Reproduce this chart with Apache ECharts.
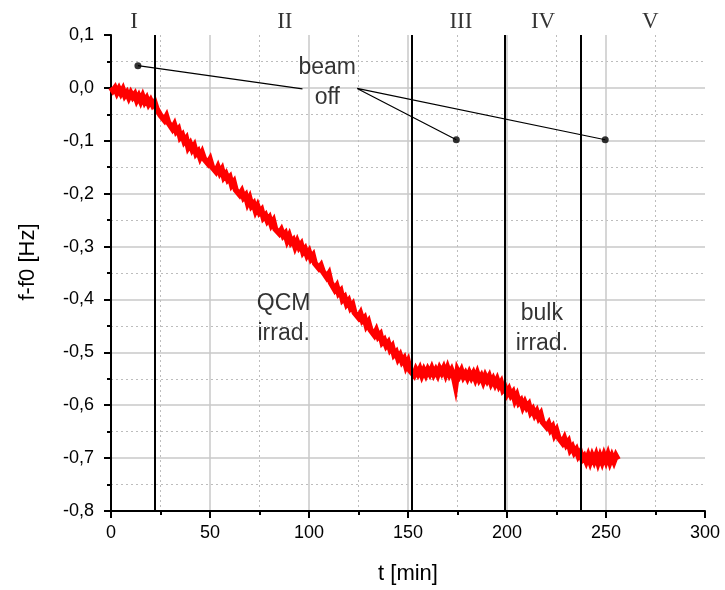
<!DOCTYPE html>
<html>
<head>
<meta charset="utf-8">
<script src="https://cdn.jsdelivr.net/npm/echarts@6/dist/echarts.min.js"></script>
<style>
html,body{margin:0;padding:0;background:#fff;}
#chart{width:725px;height:590px;}
</style>
</head>
<body>
<div id="chart"></div>
<script>
// time axis samples [min]
const timeMin = [
  0,1,2,3,4,5,6,7,8,9,10,11,12,13,14,15,16,17,18,19,20,21,22,23,24,25,26,27,28,29,
  30,31,32,33,34,35,36,37,38,39,40,41,42,43,44,45,46,47,48,49,50,51,52,53,54,55,56,57,58,59,
  60,61,62,63,64,65,66,67,68,69,70,71,72,73,74,75,76,77,78,79,80,81,82,83,84,85,86,87,88,89,
  90,91,92,93,94,95,96,97,98,99,100,101,102,103,104,105,106,107,108,109,110,111,112,113,114,115,116,117,118,119,
  120,121,122,123,124,125,126,127,128,129,130,131,132,133,134,135,136,137,138,139,140,141,142,143,144,145,146,147,148,149,
  150,151,152,153,154,155,156,157,158,159,160,161,162,163,164,165,166,167,168,169,170,171,172,173,174,175,176,177,178,179,
  180,181,182,183,184,185,186,187,188,189,190,191,192,193,194,195,196,197,198,199,200,201,202,203,204,205,206,207,208,209,
  210,211,212,213,214,215,216,217,218,219,220,221,222,223,224,225,226,227,228,229,230,231,232,233,234,235,236,237,238,239,
  240,241,242,243,244,245,246,247,248,249,250,251,252,253,254,255,256
];
// frequency shift f-f0 [Hz]
const deltaF = [
  0.001,-0.005,0.000,-0.009,-0.002,-0.010,-0.003,-0.014,-0.009,-0.018,
  -0.010,-0.017,-0.012,-0.023,-0.016,-0.025,-0.016,-0.026,-0.020,-0.030,
  -0.024,-0.032,-0.027,-0.039,-0.037,-0.052,-0.049,-0.061,-0.054,-0.066,
  -0.063,-0.077,-0.070,-0.082,-0.078,-0.093,-0.089,-0.101,-0.096,-0.112,
  -0.106,-0.116,-0.110,-0.124,-0.120,-0.131,-0.123,-0.134,-0.131,-0.143,
  -0.136,-0.149,-0.146,-0.158,-0.150,-0.160,-0.154,-0.168,-0.163,-0.173,
  -0.169,-0.183,-0.178,-0.193,-0.190,-0.202,-0.196,-0.207,-0.203,-0.217,
  -0.209,-0.223,-0.219,-0.232,-0.224,-0.235,-0.231,-0.245,-0.241,-0.251,
  -0.246,-0.258,-0.252,-0.267,-0.264,-0.275,-0.269,-0.279,-0.275,-0.288,
  -0.280,-0.292,-0.288,-0.300,-0.291,-0.301,-0.296,-0.310,-0.305,-0.316,
  -0.310,-0.322,-0.317,-0.332,-0.329,-0.341,-0.336,-0.347,-0.344,-0.358,
  -0.352,-0.368,-0.366,-0.381,-0.375,-0.388,-0.384,-0.400,-0.396,-0.408,
  -0.403,-0.415,-0.410,-0.425,-0.422,-0.434,-0.427,-0.439,-0.435,-0.449,
  -0.443,-0.457,-0.454,-0.467,-0.459,-0.470,-0.466,-0.481,-0.477,-0.487,
  -0.482,-0.494,-0.489,-0.504,-0.500,-0.512,-0.506,-0.517,-0.512,-0.526,
  -0.518,-0.534,-0.532,-0.543,-0.533,-0.540,-0.532,-0.543,-0.534,-0.542,
  -0.533,-0.540,-0.531,-0.541,-0.534,-0.542,-0.531,-0.538,-0.530,-0.541,
  -0.530,-0.541,-0.534,-0.544,-0.562,-0.535,-0.543,-0.535,-0.546,-0.540,
  -0.548,-0.539,-0.547,-0.540,-0.550,-0.540,-0.551,-0.545,-0.555,-0.545,
  -0.553,-0.546,-0.558,-0.551,-0.560,-0.552,-0.563,-0.557,-0.571,-0.567,
  -0.578,-0.571,-0.581,-0.576,-0.590,-0.582,-0.595,-0.591,-0.603,-0.595,
  -0.604,-0.599,-0.613,-0.608,-0.618,-0.612,-0.623,-0.617,-0.632,-0.629,
  -0.641,-0.635,-0.646,-0.641,-0.655,-0.648,-0.661,-0.658,-0.671,-0.663,
  -0.674,-0.669,-0.684,-0.679,-0.689,-0.684,-0.695,-0.689,-0.702,-0.697,
  -0.706,-0.696,-0.707,-0.696,-0.705,-0.695,-0.708,-0.697,-0.707,-0.695,
  -0.705,-0.694,-0.707,-0.697,-0.706,-0.696,-0.703
];
// phase boundaries [min]
const phaseBounds = [22.1, 151.7, 198.7, 237.2];
// phase labels and their positions [min, Hz]
const phaseLabels = ['I', 'II', 'III', 'IV', 'V'];
const phaseLabelT = [11.6, 87.8, 176.7, 218.2, 272.4];
const phaseLabelY = 0.125;
// annotation texts
const noteTexts = ['beam\noff', 'QCM\nirrad.', 'bulk\nirrad.'];
const notePos = [[109.2, 0.009], [87.2, -0.437], [217.6, -0.456]];
// "beam off" leader lines: [start, end]
const leaderLines = [
  [[13.6, 0.042], [96.7, -0.002]],
  [[124.3, -0.001], [174.4, -0.098]],
  [[124.3, -0.001], [249.6, -0.098]]
];
const beamOffDots = [[13.6, 0.042], [174.4, -0.098], [249.6, -0.098]];
// axis ticks
const xTicks = {min: 0, max: 300, step: 50};
const yTicks = {min: -0.8, max: 0.1, step: 0.1};

const SANS = '"Liberation Sans", Arial, sans-serif';
const SERIF = '"Liberation Serif", "Times New Roman", serif';

const curve = timeMin.map((t, i) => [t, deltaF[i]]);
const leaderData = [];
leaderLines.forEach((seg, i) => {
  if (i > 0) leaderData.push('-');
  leaderData.push(seg[0], seg[1]);
});

const chart = echarts.init(document.getElementById('chart'), null, {renderer: 'canvas'});
chart.setOption({
  animation: false,
  backgroundColor: '#ffffff',
  grid: {left: 111, right: 20, top: 35, bottom: 78},
  xAxis: {
    type: 'value',
    min: xTicks.min, max: xTicks.max, interval: xTicks.step,
    name: 't [min]', nameLocation: 'middle', nameGap: 52,
    nameTextStyle: {fontFamily: SANS, fontSize: 22, color: '#000'},
    axisLine: {show: true, onZero: false, lineStyle: {color: '#000', width: 2}},
    axisTick: {show: true, length: 7, lineStyle: {color: '#000', width: 2}},
    minorTick: {show: true, splitNumber: 2, length: 4, lineStyle: {color: '#000', width: 2}},
    axisLabel: {fontFamily: SANS, fontSize: 18, color: '#000', margin: 13},
    splitLine: {show: true, showMaxLine: false, lineStyle: {color: '#c8c8c8', width: 1.5}},
    minorSplitLine: {show: true, lineStyle: {color: '#bdbdbd', width: 1, type: [2, 3]}}
  },
  yAxis: {
    type: 'value',
    min: yTicks.min, max: yTicks.max, interval: yTicks.step,
    name: 'f-f0 [Hz]', nameLocation: 'middle', nameGap: 72, nameRotate: 90,
    nameTextStyle: {fontFamily: SANS, fontSize: 22, color: '#000', padding: [0, 0, 0, 22]},
    axisLine: {show: true, lineStyle: {color: '#000', width: 2}},
    axisTick: {show: true, length: 7, lineStyle: {color: '#000', width: 2}},
    minorTick: {show: true, splitNumber: 2, length: 4, lineStyle: {color: '#000', width: 2}},
    axisLabel: {
      fontFamily: SANS, fontSize: 18, color: '#000', margin: 17,
      formatter: v => (Math.abs(v) < 1e-9 ? 0 : v).toFixed(1).replace('.', ',')
    },
    splitLine: {show: true, showMaxLine: false, lineStyle: {color: '#c8c8c8', width: 1.5}},
    minorSplitLine: {show: true, lineStyle: {color: '#bdbdbd', width: 1, type: [2, 3]}}
  },
  series: [
    {
      type: 'line', z: 2, silent: true, data: [],
      markLine: {
        silent: true, symbol: ['none', 'none'], label: {show: false},
        lineStyle: {color: '#000', width: 2, type: 'solid'},
        data: phaseBounds.map(x => ({xAxis: x}))
      }
    },
    {
      type: 'line', z: 4, data: curve, showSymbol: false, silent: true,
      lineStyle: {color: '#ff0000', width: 6, join: 'miter'}, itemStyle: {color: '#ff0000'}
    },
    {
      type: 'line', z: 5, data: leaderData, showSymbol: false, silent: true, connectNulls: false,
      lineStyle: {color: '#000', width: 1.2}
    },
    {
      type: 'scatter', z: 6, data: beamOffDots, symbolSize: 7, silent: true,
      itemStyle: {color: '#000'}
    },
    {
      type: 'scatter', z: 7, clip: false, silent: true, symbolSize: 1,
      itemStyle: {color: 'rgba(0,0,0,0)'},
      data: phaseLabels.map((s, i) => ({value: [phaseLabelT[i], phaseLabelY], name: s})),
      label: {show: true, position: 'inside', formatter: p => p.name,
        fontFamily: SERIF, fontSize: 23, color: '#000', align: 'center', verticalAlign: 'middle'}
    },
    {
      type: 'scatter', z: 7, clip: false, silent: true, symbolSize: 1,
      itemStyle: {color: 'rgba(0,0,0,0)'},
      data: noteTexts.map((s, i) => ({value: notePos[i], name: s})),
      label: {show: true, position: 'inside', formatter: p => p.name,
        fontFamily: SANS, fontSize: 23, lineHeight: 30, color: '#000', align: 'center', verticalAlign: 'middle'}
    }
  ]
});
</script>
</body>
</html>
